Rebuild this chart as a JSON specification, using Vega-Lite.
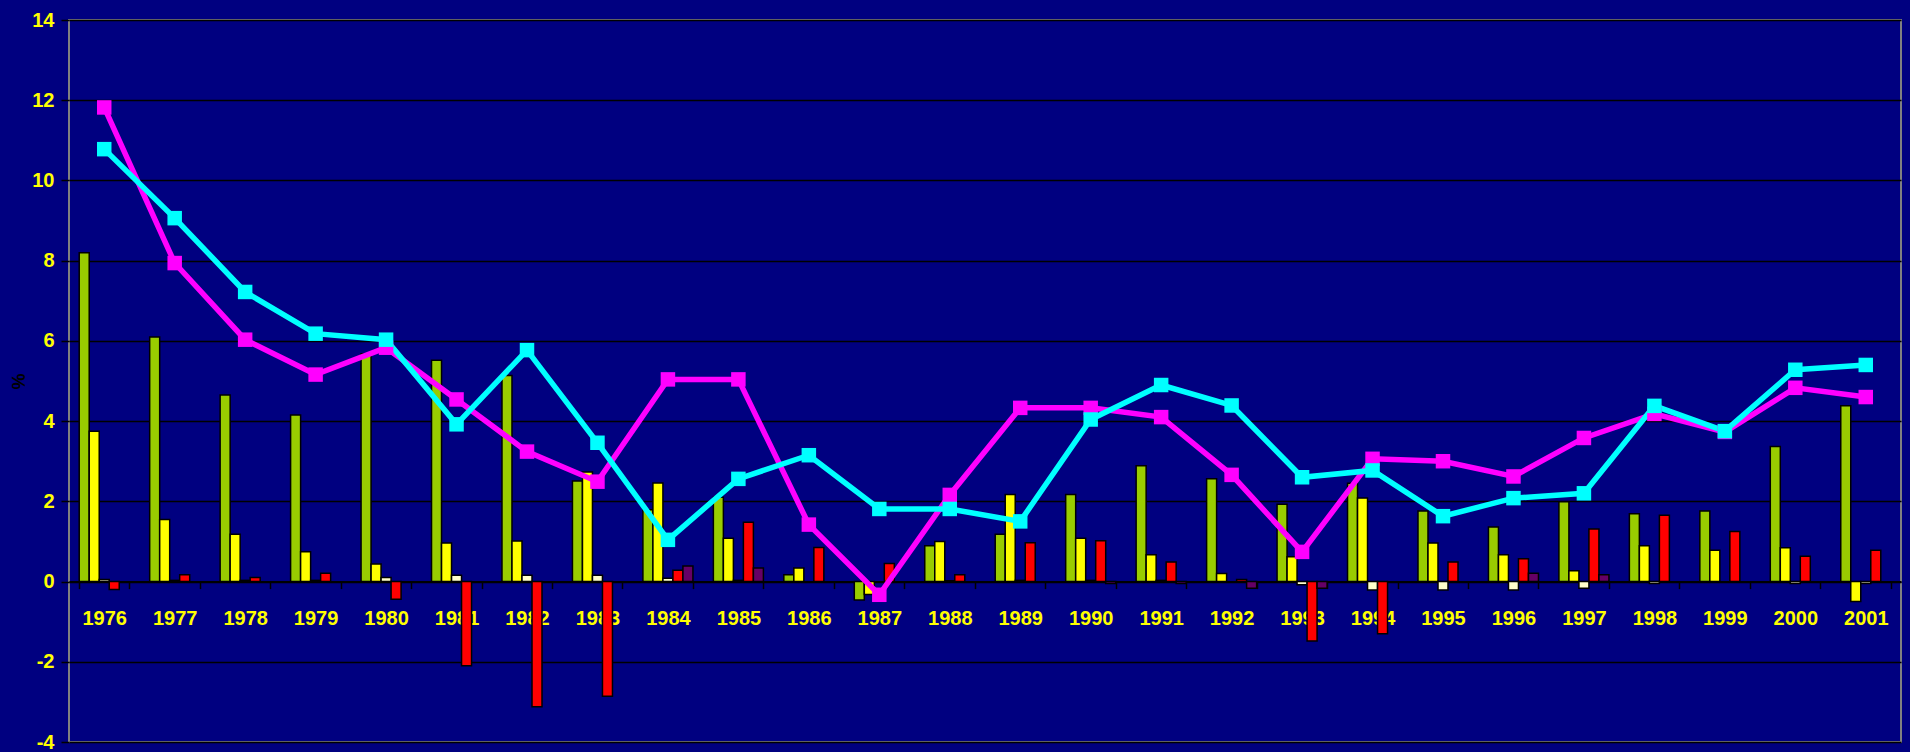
{
  "$schema": "https://vega.github.io/schema/vega-lite/v6.json",
  "autosize": {"type": "none"},
  "width": 1832,
  "height": 722,
  "padding": {"left": 69, "top": 20, "right": 9, "bottom": 10},
  "background": "#000080",
  "config": {
    "view": {"stroke": "#808080", "strokeWidth": 2, "fill": "#000080"},
    "font": "Liberation Sans"
  },
  "datasets": {
    "bars": [
      {"year":"1976","series":"s1","value":8.2},{"year":"1976","series":"s2","value":3.75},{"year":"1976","series":"s3","value":0.05},{"year":"1976","series":"s4","value":-0.2},
      {"year":"1977","series":"s1","value":6.1},{"year":"1977","series":"s2","value":1.55},{"year":"1977","series":"s3","value":0.03},{"year":"1977","series":"s4","value":0.17},
      {"year":"1978","series":"s1","value":4.65},{"year":"1978","series":"s2","value":1.18},{"year":"1978","series":"s3","value":0.03},{"year":"1978","series":"s4","value":0.1},
      {"year":"1979","series":"s1","value":4.15},{"year":"1979","series":"s2","value":0.74},{"year":"1979","series":"s3","value":0.03},{"year":"1979","series":"s4","value":0.21},
      {"year":"1980","series":"s1","value":5.68},{"year":"1980","series":"s2","value":0.44},{"year":"1980","series":"s3","value":0.1},{"year":"1980","series":"s4","value":-0.44},
      {"year":"1981","series":"s1","value":5.52},{"year":"1981","series":"s2","value":0.96},{"year":"1981","series":"s3","value":0.16},{"year":"1981","series":"s4","value":-2.1},
      {"year":"1982","series":"s1","value":5.14},{"year":"1982","series":"s2","value":1.01},{"year":"1982","series":"s3","value":0.16},{"year":"1982","series":"s4","value":-3.12},
      {"year":"1983","series":"s1","value":2.51},{"year":"1983","series":"s2","value":2.73},{"year":"1983","series":"s3","value":0.16},{"year":"1983","series":"s4","value":-2.86},
      {"year":"1984","series":"s1","value":1.79},{"year":"1984","series":"s2","value":2.46},{"year":"1984","series":"s3","value":0.08},{"year":"1984","series":"s4","value":0.28},{"year":"1984","series":"s5","value":0.39},
      {"year":"1985","series":"s1","value":2.1},{"year":"1985","series":"s2","value":1.08},{"year":"1985","series":"s3","value":0.03},{"year":"1985","series":"s4","value":1.48},{"year":"1985","series":"s5","value":0.34},
      {"year":"1986","series":"s1","value":0.17},{"year":"1986","series":"s2","value":0.34},{"year":"1986","series":"s4","value":0.85},
      {"year":"1987","series":"s1","value":-0.46},{"year":"1987","series":"s2","value":-0.32},{"year":"1987","series":"s4","value":0.45},
      {"year":"1988","series":"s1","value":0.89},{"year":"1988","series":"s2","value":1.0},{"year":"1988","series":"s3","value":0.02},{"year":"1988","series":"s4","value":0.17},
      {"year":"1989","series":"s1","value":1.18},{"year":"1989","series":"s2","value":2.17},{"year":"1989","series":"s3","value":0.03},{"year":"1989","series":"s4","value":0.97},
      {"year":"1990","series":"s1","value":2.17},{"year":"1990","series":"s2","value":1.08},{"year":"1990","series":"s3","value":0.03},{"year":"1990","series":"s4","value":1.02},{"year":"1990","series":"s5","value":-0.05},
      {"year":"1991","series":"s1","value":2.89},{"year":"1991","series":"s2","value":0.67},{"year":"1991","series":"s3","value":0.03},{"year":"1991","series":"s4","value":0.49},{"year":"1991","series":"s5","value":-0.05},
      {"year":"1992","series":"s1","value":2.56},{"year":"1992","series":"s2","value":0.2},{"year":"1992","series":"s4","value":0.05},{"year":"1992","series":"s5","value":-0.17},
      {"year":"1993","series":"s1","value":1.93},{"year":"1993","series":"s2","value":0.62},{"year":"1993","series":"s3","value":-0.08},{"year":"1993","series":"s4","value":-1.48},{"year":"1993","series":"s5","value":-0.17},
      {"year":"1994","series":"s1","value":2.45},{"year":"1994","series":"s2","value":2.08},{"year":"1994","series":"s3","value":-0.21},{"year":"1994","series":"s4","value":-1.3},
      {"year":"1995","series":"s1","value":1.76},{"year":"1995","series":"s2","value":0.96},{"year":"1995","series":"s3","value":-0.21},{"year":"1995","series":"s4","value":0.49},
      {"year":"1996","series":"s1","value":1.36},{"year":"1996","series":"s2","value":0.67},{"year":"1996","series":"s3","value":-0.21},{"year":"1996","series":"s4","value":0.57},{"year":"1996","series":"s5","value":0.21},
      {"year":"1997","series":"s1","value":1.99},{"year":"1997","series":"s2","value":0.27},{"year":"1997","series":"s3","value":-0.17},{"year":"1997","series":"s4","value":1.31},{"year":"1997","series":"s5","value":0.17},
      {"year":"1998","series":"s1","value":1.69},{"year":"1998","series":"s2","value":0.89},{"year":"1998","series":"s3","value":-0.05},{"year":"1998","series":"s4","value":1.65},
      {"year":"1999","series":"s1","value":1.76},{"year":"1999","series":"s2","value":0.78},{"year":"1999","series":"s4","value":1.25},
      {"year":"2000","series":"s1","value":3.37},{"year":"2000","series":"s2","value":0.84},{"year":"2000","series":"s3","value":-0.05},{"year":"2000","series":"s4","value":0.63},
      {"year":"2001","series":"s1","value":4.38},{"year":"2001","series":"s2","value":-0.5},{"year":"2001","series":"s3","value":-0.05},{"year":"2001","series":"s4","value":0.78}
    ],
    "lines": [
      {"year":"1976","line":"m","value":11.82},{"year":"1977","line":"m","value":7.94},{"year":"1978","line":"m","value":6.03},{"year":"1979","line":"m","value":5.16},{"year":"1980","line":"m","value":5.83},{"year":"1981","line":"m","value":4.54},{"year":"1982","line":"m","value":3.24},{"year":"1983","line":"m","value":2.49},{"year":"1984","line":"m","value":5.04},{"year":"1985","line":"m","value":5.04},{"year":"1986","line":"m","value":1.42},{"year":"1987","line":"m","value":-0.33},{"year":"1988","line":"m","value":2.16},{"year":"1989","line":"m","value":4.33},{"year":"1990","line":"m","value":4.33},{"year":"1991","line":"m","value":4.1},{"year":"1992","line":"m","value":2.66},{"year":"1993","line":"m","value":0.74},{"year":"1994","line":"m","value":3.06},{"year":"1995","line":"m","value":3.0},{"year":"1996","line":"m","value":2.62},{"year":"1997","line":"m","value":3.58},{"year":"1998","line":"m","value":4.18},{"year":"1999","line":"m","value":3.73},{"year":"2000","line":"m","value":4.83},{"year":"2001","line":"m","value":4.6},
      {"year":"1976","line":"c","value":10.78},{"year":"1977","line":"c","value":9.06},{"year":"1978","line":"c","value":7.22},{"year":"1979","line":"c","value":6.18},{"year":"1980","line":"c","value":6.03},{"year":"1981","line":"c","value":3.92},{"year":"1982","line":"c","value":5.77},{"year":"1983","line":"c","value":3.46},{"year":"1984","line":"c","value":1.04},{"year":"1985","line":"c","value":2.56},{"year":"1986","line":"c","value":3.15},{"year":"1987","line":"c","value":1.81},{"year":"1988","line":"c","value":1.81},{"year":"1989","line":"c","value":1.5},{"year":"1990","line":"c","value":4.04},{"year":"1991","line":"c","value":4.9},{"year":"1992","line":"c","value":4.39},{"year":"1993","line":"c","value":2.6},{"year":"1994","line":"c","value":2.77},{"year":"1995","line":"c","value":1.63},{"year":"1996","line":"c","value":2.08},{"year":"1997","line":"c","value":2.2},{"year":"1998","line":"c","value":4.38},{"year":"1999","line":"c","value":3.75},{"year":"2000","line":"c","value":5.28},{"year":"2001","line":"c","value":5.4}
    ]
  },
  "encoding": {
    "x": {
      "field": "year", "type": "ordinal",
      "scale": {"paddingInner": 0.29, "paddingOuter": 0.145},
      "axis": {
        "title": null, "orient": "bottom", "offset": -160.4,
        "labelAngle": 0, "labelColor": "#ffff00", "labelFont": "Liberation Sans",
        "labelFontSize": 20, "labelFontWeight": "bold", "labelPadding": 20,
        "tickBand": "extent", "tickColor": "#000000", "tickSize": 7, "tickWidth": 1.5,
        "domainColor": "#000000", "domainWidth": 2, "grid": false
      }
    },
    "y": {
      "field": "value", "type": "quantitative",
      "scale": {"domain": [-4, 14], "nice": false, "zero": false},
      "axis": {
        "values": [-4, -2, 0, 2, 4, 6, 8, 10, 12, 14],
        "labelExpr": "replace(datum.label, '\u2212', '-')",
        "title": "%", "titleColor": "#000000", "titleFont": "Liberation Sans",
        "titleFontSize": 18, "titleFontWeight": "bold",
        "titleX": -50, "titleY": 361, "titleAngle": -90, "titleAlign": "center", "titleBaseline": "middle",
        "labelColor": "#ffff00", "labelFont": "Liberation Sans", "labelFontSize": 20,
        "labelFontWeight": "bold", "labelPadding": 7,
        "tickColor": "#000000", "tickSize": 8, "tickWidth": 1.5,
        "domain": false, "grid": true, "gridColor": "#000000", "gridWidth": 1.5
      }
    }
  },
  "layer": [
    {
      "data": {"name": "bars"},
      "mark": {"type": "bar", "stroke": "#000000", "strokeWidth": 1.5},
      "encoding": {
        "xOffset": {"field": "series", "type": "nominal", "scale": {"domain": ["s1","s2","s3","s4","s5"], "paddingInner": 0, "paddingOuter": 0}},
        "color": {"field": "series", "type": "nominal", "legend": null,
          "scale": {"domain": ["s1","s2","s3","s4","s5"], "range": ["#99cc00","#ffff00","#ffffcc","#ff0000","#660066"]}}
      }
    },
    {
      "data": {"name": "lines"},
      "mark": {"type": "line", "strokeWidth": 5.5, "point": {"shape": "square", "size": 210, "filled": true, "opacity": 1}},
      "encoding": {
        "color": {"field": "line", "type": "nominal", "legend": null,
          "scale": {"domain": ["m","c"], "range": ["#ff00ff","#00ffff"]}},
        "order": {"value": 0}
      }
    }
  ],
  "resolve": {"scale": {"color": "independent"}}
}
